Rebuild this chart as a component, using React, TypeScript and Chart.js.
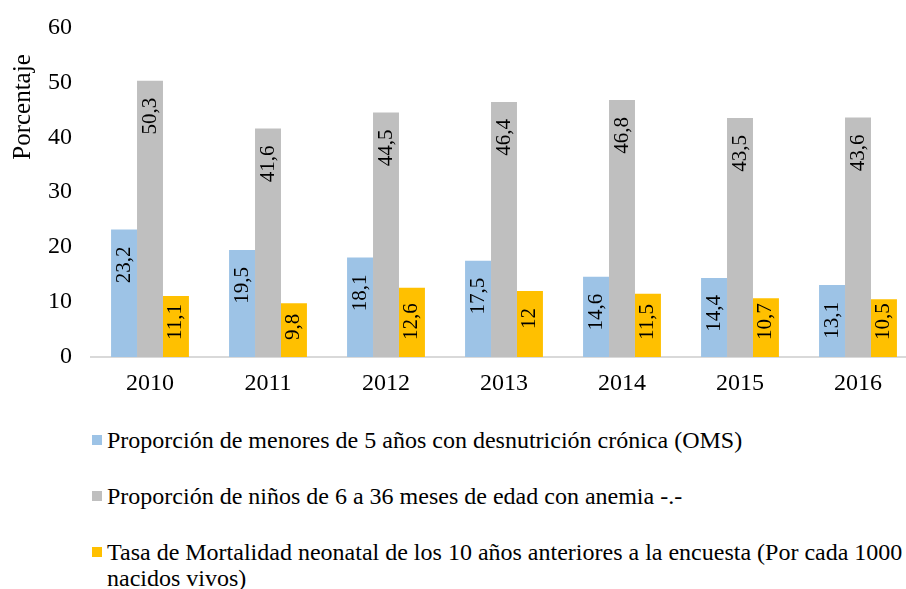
import React, { useEffect, useRef } from "react";
import { Chart, registerables } from "chart.js";

Chart.register(...registerables);

const years = ["2010", "2011", "2012", "2013", "2014", "2015", "2016"];
const desnutricion = [23.2, 19.5, 18.1, 17.5, 14.6, 14.4, 13.1];
const anemia = [50.3, 41.6, 44.5, 46.4, 46.8, 43.5, 43.6];
const mortalidad = [11.1, 9.8, 12.6, 12, 11.5, 10.7, 10.5];
const seriesNames = [
  "Proporción de menores de 5 años con desnutrición crónica (OMS)",
  "Proporción de niños de 6 a 36 meses de edad con anemia -.-",
  "Tasa de Mortalidad neonatal de los 10 años anteriores a la encuesta (Por cada 1000 nacidos vivos)",
];
const seriesColors = ["#9DC3E6", "#BFBFBF", "#FFC000"];
const yTicks = [0, 10, 20, 30, 40, 50, 60];

const FONT = "'Liberation Serif', 'Times New Roman', serif";
const SHIFT = 6;

const labelPlugin = {
  id: "rotLabels",
  afterDatasetsDraw(chart: any) {
    const ctx = chart.ctx;
    const base = chart.scales.y.getPixelForValue(0);
    ctx.save();
    ctx.font = `21px ${FONT}`;
    ctx.fillStyle = "#000";
    chart.data.datasets.forEach((ds: any, di: number) => {
      const meta = chart.getDatasetMeta(di);
      meta.data.forEach((el: any, i: number) => {
        const v = ds.data[i];
        const txt = String(v).replace(".", ",");
        const w = ctx.measureText(txt).width;
        let top = el.y + 17;
        if (top + w > base - 17) top = base - 17 - w;
        ctx.save();
        ctx.translate(el.x, top);
        ctx.rotate(-Math.PI / 2);
        ctx.textAlign = "right";
        ctx.textBaseline = "middle";
        ctx.fillText(txt, 0, 0);
        ctx.restore();
      });
    });
    ctx.restore();
  },
};

const titlePlugin = {
  id: "yTitle",
  afterDraw(chart: any) {
    const ctx = chart.ctx;
    ctx.save();
    ctx.font = `25px ${FONT}`;
    ctx.fillStyle = "#000";
    ctx.translate(23, 107 + SHIFT);
    ctx.rotate(-Math.PI / 2);
    ctx.textAlign = "center";
    ctx.textBaseline = "middle";
    ctx.fillText("Porcentaje", 0, 0);
    ctx.restore();
  },
};

export default function App() {
  const ref = useRef<HTMLCanvasElement>(null);
  useEffect(() => {
    if (!ref.current) return;
    const chart = new Chart(ref.current, {
      type: "bar",
      data: {
        labels: years,
        datasets: [desnutricion, anemia, mortalidad].map((d, i) => ({
          label: seriesNames[i],
          data: d,
          backgroundColor: seriesColors[i],
          categoryPercentage: 0.66,
          barPercentage: 1,
        })),
      },
      options: {
        animation: false,
        responsive: false,
        layout: { padding: { top: 19, right: 3, left: 0, bottom: 0 } },
        plugins: { legend: { display: false }, tooltip: { enabled: false } },
        scales: {
          x: {
            grid: { display: false, drawTicks: false },
            border: { display: true, color: "#D9D9D9", width: 2 },
            ticks: { font: { family: FONT, size: 24 }, color: "#000", padding: 12 },
            afterFit(scale: any) {
              scale.height = 43;
            },
          },
          y: {
            min: 0,
            max: 60,
            afterBuildTicks(scale: any) {
              scale.ticks = yTicks.map((v) => ({ value: v }));
            },
            grid: { display: false, drawTicks: false },
            border: { display: false },
            ticks: { font: { family: FONT, size: 24 }, color: "#000", padding: 19 },
            afterFit(scale: any) {
              scale.width = 91;
            },
          },
        },
      },
      plugins: [labelPlugin, titlePlugin],
    });
    return () => chart.destroy();
  }, []);

  const rowTops = [427, 483, 539];
  const sq = (i: number) => (
    <div
      style={{
        position: "absolute",
        left: 92,
        top: rowTops[i] + 8,
        width: 10,
        height: 10,
        background: seriesColors[i],
      }}
    />
  );
  const txtStyle = (i: number): React.CSSProperties => ({
    position: "absolute",
    left: 107,
    top: rowTops[i],
    font: `24px ${FONT}`,
    lineHeight: "26px",
    color: "#000",
    whiteSpace: "nowrap",
  });

  return (
    <div
      style={{
        position: "fixed",
        left: 0,
        top: 0,
        width: 906,
        height: 589,
        overflow: "hidden",
        background: "#fff",
      }}
    >
      <canvas
        ref={ref}
        width={920}
        height={400 + SHIFT}
        style={{ position: "absolute", left: 0, top: -SHIFT, width: 920, height: 400 + SHIFT }}
      />
      {sq(0)}
      <div style={txtStyle(0)}>{seriesNames[0]}</div>
      {sq(1)}
      <div style={txtStyle(1)}>{seriesNames[1]}</div>
      {sq(2)}
      <div style={txtStyle(2)}>
        Tasa de Mortalidad neonatal de los 10 años anteriores a la encuesta (Por cada 1000
        <br />
        nacidos vivos)
      </div>
    </div>
  );
}
